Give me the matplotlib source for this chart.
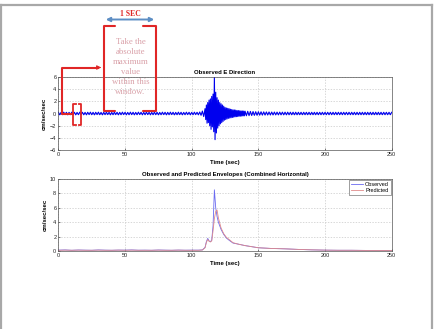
import numpy as np
import matplotlib
matplotlib.use("Agg")
import matplotlib.pyplot as plt
from matplotlib.patches import FancyArrowPatch

# ---------------- data ----------------
# observed E-direction acceleration (cm/sec/sec)
# pre-event samples, t = 0 .. 109 s (1 s step)
sig_pre = [
 0.2,-0.22,0.18,-0.2,0.22,-0.18,0.2,-0.22,0.19,-0.2,
 0.22,-0.18,0.2,-0.22,0.18,-0.2,0.22,-0.19,0.2,-0.21,
 0.18,-0.22,0.2,-0.18,0.22,-0.2,0.19,-0.22,0.2,-0.18,
 0.22,-0.2,0.18,-0.22,0.2,-0.19,0.22,-0.18,0.2,-0.22,
 0.18,-0.2,0.22,-0.18,0.2,-0.22,0.19,-0.2,0.22,-0.18,
 0.2,-0.22,0.18,-0.2,0.22,-0.19,0.2,-0.22,0.18,-0.2,
 0.22,-0.18,0.2,-0.22,0.19,-0.2,0.22,-0.18,0.2,-0.22,
 0.18,-0.2,0.22,-0.19,0.2,-0.22,0.18,-0.2,0.22,-0.18,
 0.2,-0.22,0.19,-0.2,0.22,-0.18,0.2,-0.22,0.18,-0.2,
 0.22,-0.19,0.2,-0.22,0.18,-0.2,0.22,-0.18,0.2,-0.22,
 0.19,-0.2,0.22,-0.18,0.2,-0.22,0.25,-0.3,0.4,-0.5,
]
# strong-motion samples, t = 110 .. 139.5 s (0.5 s step)
sig_burst = [
 0.8,-1.0,1.4,-1.6,1.8,-1.5,2.2,-2.0,2.4,-2.6,
 2.8,-2.2,3.2,-3.0,6.0,-4.3,3.5,-3.2,2.6,-2.4,
 2.2,-2.0,1.8,-1.7,1.6,-1.5,1.4,-1.3,1.2,-1.1,
 1.0,-1.0,0.9,-0.9,0.85,-0.8,0.8,-0.75,0.7,-0.7,
 0.65,-0.65,0.6,-0.6,0.58,-0.55,0.55,-0.52,0.5,-0.5,
 0.48,-0.46,0.45,-0.44,0.43,-0.42,0.41,-0.4,0.4,-0.38,
]
# coda samples, t = 140 .. 250 s (1 s step)
sig_post = [
 0.38,-0.37,0.36,-0.35,0.34,-0.33,0.32,-0.31,0.3,-0.3,
 0.29,-0.28,0.28,-0.27,0.27,-0.26,0.26,-0.25,0.25,-0.25,
 0.24,-0.24,0.24,-0.23,0.23,-0.23,0.23,-0.22,0.22,-0.22,
 0.22,-0.22,0.22,-0.21,0.21,-0.21,0.21,-0.21,0.21,-0.21,
 0.2,-0.2,0.2,-0.2,0.2,-0.2,0.2,-0.2,0.2,-0.2,
 0.2,-0.2,0.2,-0.2,0.2,-0.2,0.2,-0.2,0.2,-0.2,
 0.2,-0.2,0.2,-0.2,0.2,-0.2,0.2,-0.2,0.2,-0.2,
 0.2,-0.2,0.2,-0.2,0.2,-0.2,0.2,-0.2,0.2,-0.2,
 0.2,-0.2,0.2,-0.2,0.2,-0.2,0.2,-0.2,0.2,-0.2,
 0.2,-0.2,0.2,-0.2,0.2,-0.2,0.2,-0.2,0.2,-0.2,
 0.2,-0.2,0.2,-0.2,0.2,-0.2,0.2,-0.2,0.2,-0.2,
 0.2,
]

# envelopes (combined horizontal)
env_t = [0, 5, 10, 15, 20, 25, 30, 35, 40, 45, 50, 55, 60, 65, 70, 75, 80, 85,
         90, 95, 100, 105, 108, 110, 111, 112, 113, 114, 115, 116, 117, 118,
         119, 120, 122, 124, 126, 128, 131, 135, 140, 145, 150, 160, 170, 180,
         190, 200, 210, 220, 230, 240, 250]
env_obs = [0.12, 0.15, 0.1, 0.14, 0.12, 0.1, 0.15, 0.12, 0.1, 0.13, 0.12, 0.15,
           0.11, 0.12, 0.1, 0.14, 0.12, 0.1, 0.13, 0.11, 0.12, 0.12, 0.15, 0.5,
           1.3, 1.75, 1.4, 1.3, 1.5, 3.5, 8.5, 6.0, 4.8, 4.0, 3.0, 2.3, 1.8, 1.5,
           1.1, 0.95, 0.75, 0.6, 0.45, 0.35, 0.3, 0.22, 0.16, 0.12, 0.1, 0.1,
           0.08, 0.08, 0.07]
env_pred = [0.1, 0.12, 0.1, 0.12, 0.1, 0.1, 0.12, 0.1, 0.1, 0.12, 0.1, 0.12,
            0.1, 0.1, 0.1, 0.12, 0.1, 0.1, 0.12, 0.1, 0.1, 0.1, 0.14, 0.45,
            1.2, 1.6, 1.35, 1.25, 1.4, 2.8, 4.5, 5.5, 5.7, 4.6, 3.2, 2.4, 1.9,
            1.6, 1.15, 0.95, 0.75, 0.6, 0.45, 0.35, 0.3, 0.22, 0.16, 0.12, 0.1,
            0.1, 0.08, 0.08, 0.07]

x_ticks = [0, 50, 100, 150, 200, 250]
y_ticks_top = [-6, -4, -2, 0, 2, 4, 6]
y_ticks_bot = [0, 2, 4, 6, 8, 10]

sig_t = np.concatenate([np.arange(0, 110, 1.0), np.arange(110, 140, 0.5),
                        np.arange(140, 251, 1.0)])
sig_v = np.array(sig_pre + sig_burst + sig_post)

# ---------------- figure ----------------
W, H = 435, 329
fig = plt.figure(figsize=(W / 100, H / 100), dpi=100)
fig.patch.set_facecolor("white")
plt.rcParams["font.family"] = ["Liberation Sans", "DejaVu Sans"]

def px_axes(x0, y0, x1, y1):
    return fig.add_axes([x0 / W, 1 - y1 / H, (x1 - x0) / W, (y1 - y0) / H])

def style(ax):
    ax.grid(True, linestyle=(0, (2, 2)), color="#c8c8c8", linewidth=0.5)
    ax.tick_params(labelsize=4, length=1.5, width=0.4, pad=1.5, direction="in",
                   colors="#222222")
    for s in ax.spines.values():
        s.set_linewidth(0.5)
        s.set_color("#555555")

ax1 = px_axes(58.4, 77, 391.7, 150)
ax1.plot(sig_t, sig_v, color="#0000ee", linewidth=0.8)
ax1.set_xlim(0, 250)
ax1.set_ylim(-6, 6)
ax1.set_xticks(x_ticks)
ax1.set_yticks(y_ticks_top)
style(ax1)
ax1.set_title("Observed E Direction", fontsize=4.3, fontweight="bold", pad=2)
ax1.set_xlabel("Time (sec)", fontsize=4.3, fontweight="bold", labelpad=2)
ax1.set_ylabel("cm/sec/sec", fontsize=4.3, fontweight="bold", labelpad=2)

ax2 = px_axes(58.4, 179, 391.7, 251)
ax2.plot(env_t, env_obs, color="#6a6af0", linewidth=0.6, label="Observed")
ax2.plot(env_t, env_pred, color="#e08a8a", linewidth=0.6, label="Predicted")
ax2.set_xlim(0, 250)
ax2.set_ylim(0, 10)
ax2.set_xticks(x_ticks)
ax2.set_yticks(y_ticks_bot)
style(ax2)
ax2.set_title("Observed and Predicted Envelopes (Combined Horizontal)",
              fontsize=4.3, fontweight="bold", pad=2)
ax2.set_xlabel("Time (sec)", fontsize=4.3, fontweight="bold", labelpad=2)
ax2.set_ylabel("cm/sec/sec", fontsize=4.3, fontweight="bold", labelpad=2)
leg = ax2.legend(loc="upper right", fontsize=4, handlelength=2.2,
                 borderpad=0.3, labelspacing=0.2, handletextpad=0.4,
                 fancybox=False, framealpha=1, borderaxespad=0.2)
leg.get_frame().set_linewidth(0.4)
leg.get_frame().set_edgecolor("#555555")

# ---------------- overlay annotations ----------------
ov = fig.add_axes([0, 0, 1, 1], zorder=10)
ov.set_xlim(0, W)
ov.set_ylim(H, 0)
ov.axis("off")
ov.patch.set_alpha(0)

gray = "#a8a8a8"
ov.plot([1.5, 1.5], [5, H], color=gray, lw=1.6)
ov.plot([432.5, 432.5], [5, H], color=gray, lw=1.6)
ov.plot([1.5, 432.5], [5, 5], color=gray, lw=1.6)

red = "#e02626"
lw = 1.5
# big bracket
ov.plot([115, 104, 104, 115], [25.5, 25.5, 110.5, 110.5], color=red, lw=lw,
        solid_joinstyle="round", solid_capstyle="round")
ov.plot([143, 156.5, 156.5, 143], [25.5, 25.5, 110.5, 110.5], color=red, lw=lw,
        solid_joinstyle="round", solid_capstyle="round")
# small bracket
ov.plot([76, 73.5, 73.5, 76], [103.5, 103.5, 124.5, 124.5], color=red, lw=1.3)
ov.plot([79, 81.5, 81.5, 79], [103.5, 103.5, 124.5, 124.5], color=red, lw=1.3)
# connector
ov.plot([73, 62.3, 62.3, 98], [113.5, 113.5, 67.5, 67.5], color=red, lw=lw)
ov.add_patch(FancyArrowPatch((96, 67.5), (104, 67.5), arrowstyle="-|>",
                             mutation_scale=6, color=red, lw=0.8))
# 1 SEC arrow
ov.add_patch(FancyArrowPatch((103, 19.5), (157, 19.5), arrowstyle="<|-|>",
                             mutation_scale=6, color="#5d8ec4", lw=1.4))
ov.text(130.5, 14, "1 SEC", color=red, fontsize=5.6, fontweight="bold",
        family="Liberation Serif", ha="center", va="center")
lines = ["Take the", "absolute", "maximum", "value", "within this", "window."]
for i, s in enumerate(lines):
    ov.text(130.5, 42 + i * 10, s, color="#d9a0a8", fontsize=6.3,
            family="Liberation Serif", ha="center", va="center")

fig.savefig("out.png", dpi=100, facecolor="white")
